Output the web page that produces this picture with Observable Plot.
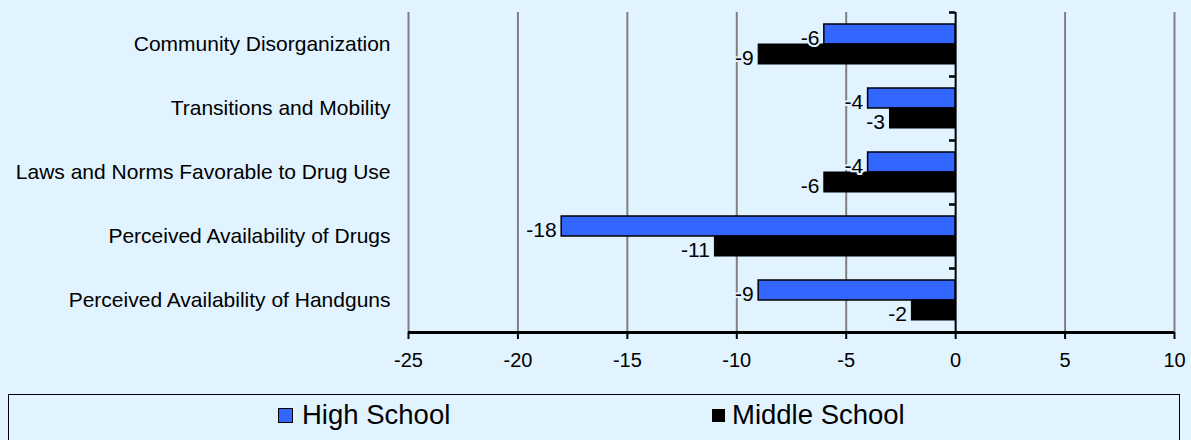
<!DOCTYPE html>
<html>
<head>
<meta charset="utf-8">
<script src="https://cdn.jsdelivr.net/npm/d3@7"></script>
<script src="https://cdn.jsdelivr.net/npm/@observablehq/plot@0.6"></script>
<style>
  html, body { margin: 0; padding: 0; background: #E0F3FF; }
  body { width: 1191px; height: 440px; position: relative; overflow: hidden; font-family: "Liberation Sans", Arial, sans-serif; }
  #chart { position: absolute; left: 0; top: 0; }
  #legend { position: absolute; left: 8px; top: 394px; width: 1172px; height: 50px; border: 1.5px solid #000; box-sizing: border-box; }
  .item { position: absolute; top: 2px; font-size: 27.5px; color: #000; line-height: 36px; white-space: nowrap; }
  .sw { position: absolute; box-sizing: border-box; border: 1.5px solid #000; }
</style>
</head>
<body>
<div id="chart"></div>
<div id="legend"></div>
<script>
const categories = [
  "Community Disorganization",
  "Transitions and Mobility",
  "Laws and Norms Favorable to Drug Use",
  "Perceived Availability of Drugs",
  "Perceived Availability of Handguns"
];
const series = ["High School", "Middle School"];
const highSchool = [-6, -4, -4, -18, -9];
const middleSchool = [-9, -3, -6, -11, -2];
const xTicks = [-25, -20, -15, -10, -5, 0, 5, 10];
const colors = ["#3366FF", "#000000"];
const bg = "#E0F3FF";

const rows = [];
categories.forEach((c, i) => {
  rows.push({category: c, series: series[0], value: highSchool[i]});
  rows.push({category: c, series: series[1], value: middleSchool[i]});
});
const hs = rows.filter(d => d.series === series[0]);
const ms = rows.filter(d => d.series === series[1]);

const plot = Plot.plot({
  width: 1191,
  height: 392,
  marginLeft: 408,
  marginRight: 17,
  marginTop: 12,
  marginBottom: 60,
  style: {background: bg, fontFamily: "'Liberation Sans', Arial, sans-serif", color: "#000"},
  x: {domain: [-25, 10], ticks: xTicks, label: null},
  y: {domain: categories, padding: 0, label: null},
  marks: [
    Plot.ruleX(xTicks.filter(d => d !== 0), {stroke: "#808080", strokeWidth: 2}),
    Plot.barX(hs, {x: "value", y: "category", fill: colors[0], stroke: "#000", strokeWidth: 1.5, insetTop: 12, insetBottom: 32}),
    Plot.barX(ms, {x: "value", y: "category", fill: colors[1], stroke: "#000", strokeWidth: 1, insetTop: 32, insetBottom: 12}),
    Plot.text(hs, {x: "value", y: "category", text: d => String(d.value), textAnchor: "end", dx: -5, dy: -6, fontSize: 21, fill: "#000", stroke: bg, strokeWidth: 4}),
    Plot.text(ms, {x: "value", y: "category", text: d => String(d.value), textAnchor: "end", dx: -5, dy: 14, fontSize: 21, fill: "#000", stroke: bg, strokeWidth: 4}),
    Plot.ruleX([0], {stroke: "#000", strokeWidth: 2}),
    Plot.ruleY(categories, {y: d => d, x1: -0.28, x2: 0, dy: -32, stroke: "#000", strokeWidth: 2.5}),
    Plot.ruleY([categories[categories.length - 1]], {y: d => d, dy: 32, stroke: "#000", strokeWidth: 3}),
    Plot.axisY({tickSize: 0, tickPadding: 18, fontSize: 21, label: null}),
    Plot.axisX({ticks: xTicks, tickFormat: d => String(d), tickSize: 7, tickPadding: 13, fontSize: 20, label: null, stroke: "#000", strokeWidth: 2})
  ]
});
document.getElementById("chart").appendChild(plot);

const legend = document.getElementById("legend");
const items = [
  {name: series[0], color: colors[0], sx: 269, tx: 293, size: 15},
  {name: series[1], color: colors[1], sx: 703, tx: 723, size: 13}
];
items.forEach(it => {
  const sw = document.createElement("div");
  sw.className = "sw";
  sw.style.left = it.sx + "px";
  sw.style.top = (24 - it.size / 2 - 4) + "px";
  sw.style.width = it.size + "px";
  sw.style.height = it.size + "px";
  sw.style.background = it.color;
  legend.appendChild(sw);
  const t = document.createElement("div");
  t.className = "item";
  t.style.left = it.tx + "px";
  t.textContent = it.name;
  legend.appendChild(t);
});
</script>
</body>
</html>
